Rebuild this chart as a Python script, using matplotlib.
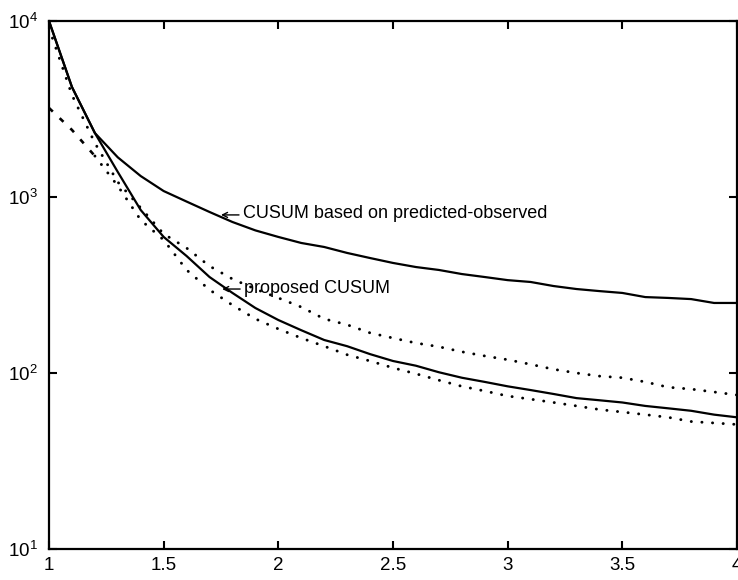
import matplotlib
matplotlib.use("Agg")
import matplotlib.pyplot as plt
import numpy as np

# ---------------------------------------------------------------------------
# Data (log-scale y)
# ---------------------------------------------------------------------------
x = [1.0, 1.1, 1.2, 1.3, 1.4, 1.5, 1.6, 1.7, 1.8, 1.9, 2.0,
     2.1, 2.2, 2.3, 2.4, 2.5, 2.6, 2.7, 2.8, 2.9, 3.0,
     3.1, 3.2, 3.3, 3.4, 3.5, 3.6, 3.7, 3.8, 3.9, 4.0]

pred_obs = [10000, 4217, 2310, 1680, 1315, 1081, 942, 822, 721, 646, 593,
            548, 520, 481, 450, 422, 400, 385, 365, 351, 337,
            329, 312, 300, 292, 285, 270, 267, 263, 250, 250]

proposed = [10000, 4217, 2310, 1387, 843, 593, 462, 351, 285, 234, 200,
            175, 154, 142, 128, 117, 110, 101, 94, 89, 84,
            80, 76, 72, 70, 68, 65, 63, 61, 58, 56]

bound_upper = [9120, 3800, 2027, 1216, 867, 617, 513, 405, 342, 300, 267,
               237, 203, 188, 169, 158, 148, 141, 132, 125, 119,
               112, 105, 100, 96, 94, 89, 83, 81, 78, 75]

bound_lower = [3206, 2405, 1710, 1156, 740, 570, 385, 297, 243, 203, 178,
               158, 142, 127, 117, 107, 99, 91, 84, 79, 74,
               71, 68, 65, 62, 60, 58, 56, 53, 52, 51]

x_ticks = [1, 1.5, 2, 2.5, 3, 3.5, 4]
x_ticklabels = ["1", "1.5", "2", "2.5", "3", "3.5", "4"]
y_ticks = [10, 100, 1000, 10000]

label_pred = "CUSUM based on predicted-observed"
label_prop = "proposed CUSUM"
label_pred_xy = (1.75, 791)
label_prop_xy = (1.755, 300)

# ---------------------------------------------------------------------------
# Style
# ---------------------------------------------------------------------------
plt.rcParams.update({
    "font.family": ["Liberation Sans", "DejaVu Sans"],
    "font.size": 13,
    "axes.linewidth": 1.6,
    "xtick.direction": "in",
    "ytick.direction": "in",
    "xtick.major.size": 6,
    "ytick.major.size": 6,
    "xtick.major.width": 1.5,
    "ytick.major.width": 1.5,
    "xtick.minor.size": 0,
    "ytick.minor.size": 0,
})

fig = plt.figure(figsize=(7.38, 5.80), dpi=100)
ax = fig.add_axes([49 / 738, 31 / 580, 688 / 738, 528 / 580])

LW = 1.6
dots = (0, (0.05, 3.6))

ax.plot(x, pred_obs, color="black", lw=LW)
ax.plot(x, proposed, color="black", lw=LW)
ax.plot(x, bound_upper, color="black", lw=2.1, linestyle=dots,
        dash_capstyle="round")
# lower bound: short dashes at the start, dots afterwards
ax.plot(x[:3], bound_lower[:3], color="black", lw=1.9,
        linestyle=(0, (2.0, 3.6)))
ax.plot(x[2:], bound_lower[2:], color="black", lw=2.1, linestyle=dots,
        dash_capstyle="round")

ax.set_yscale("log")
ax.set_xlim(1, 4)
ax.set_ylim(10, 10000)
ax.set_xticks(x_ticks)
ax.set_xticklabels(x_ticklabels)
ax.set_yticks(y_ticks)
ax.minorticks_off()
ax.tick_params(top=True, right=True, labelsize=13.5)
ax.tick_params(axis="x", pad=6)
ax.tick_params(axis="y", pad=8)

# MATLAB-style "\leftarrow label" annotations
for txt, xy in [(label_pred, label_pred_xy), (label_prop, label_prop_xy)]:
    ax.annotate("", xy=xy, xytext=(18, 0), textcoords="offset pixels",
                arrowprops=dict(arrowstyle="->", lw=1.0, color="black",
                                shrinkA=0, shrinkB=0,
                                mutation_scale=9))
    ax.annotate(txt, xy=xy, xytext=(22, 1), textcoords="offset pixels",
                ha="left", va="center", fontsize=13)

fig.savefig("out.png", dpi=100)
